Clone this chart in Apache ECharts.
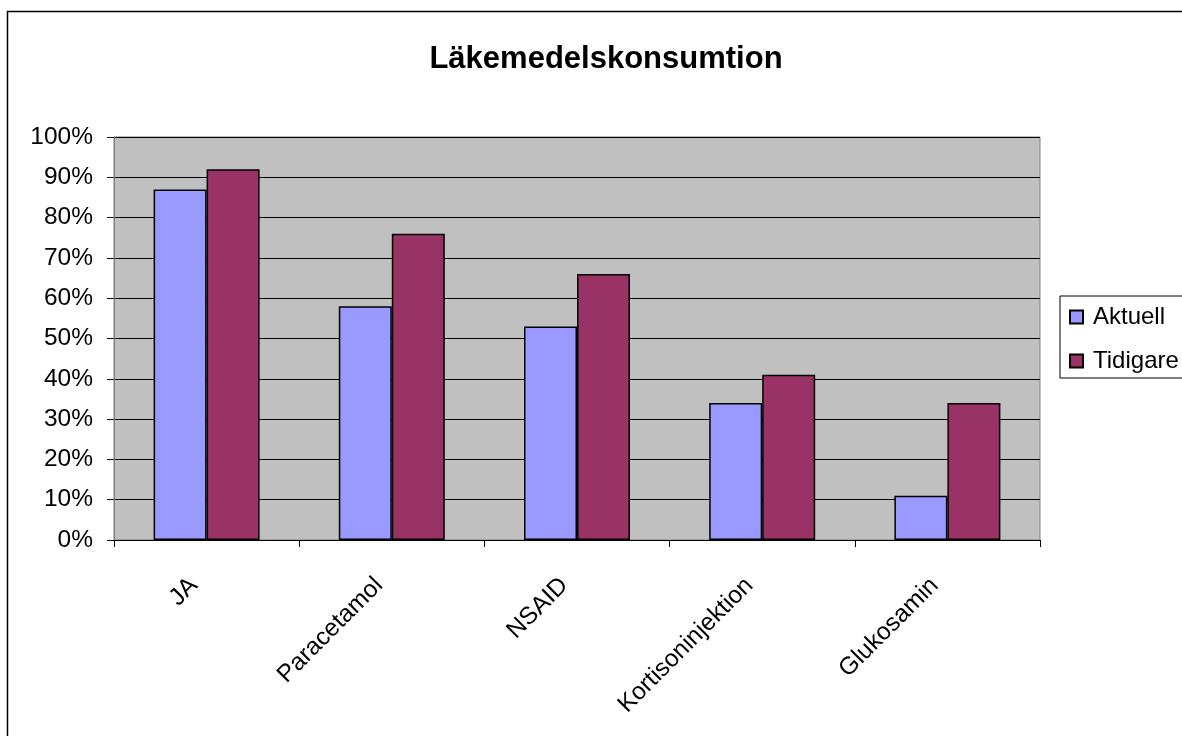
<!DOCTYPE html>
<html>
<head>
<meta charset="utf-8">
<script src="https://cdn.jsdelivr.net/npm/echarts@6/dist/echarts.min.js"></script>
<style>
  html, body { margin: 0; padding: 0; background: #ffffff; }
  #chart { width: 1182px; height: 736px; }
</style>
</head>
<body>
<div id="chart"></div>
<script>
// Läkemedelskonsumtion: andel (%) per läkemedelstyp
const categories = ['JA', 'Paracetamol', 'NSAID', 'Kortisoninjektion', 'Glukosamin'];
const aktuell = [87, 58, 53, 34, 11];
const tidigare = [92, 76, 66, 41, 34];
const seriesNames = ['Aktuell', 'Tidigare'];

const FONT = 'Liberation Sans, Arial, sans-serif';

const chart = echarts.init(document.getElementById('chart'), null, { renderer: 'canvas' });

chart.setOption({
  backgroundColor: '#ffffff',
  animation: false,
  textStyle: { fontFamily: FONT },
  title: {
    text: 'Läkemedelskonsumtion',
    left: 601,
    textAlign: 'center',
    top: 39,
    textStyle: { fontFamily: FONT, fontSize: 31, fontWeight: 'bold', color: '#000000' }
  },
  graphic: [
    {
      type: 'rect',
      left: 5, top: 9,
      shape: { width: 1200, height: 760 },
      style: { fill: 'none', stroke: '#000000', lineWidth: 1.5 },
      silent: true,
      z: 100
    }
  ],
  legend: {
    orient: 'vertical',
    left: 1060,
    top: 296,
    padding: [9, 6, 5, 9],
    itemGap: 20,
    itemWidth: 13,
    itemHeight: 13,
    icon: 'rect',
    borderColor: '#000000',
    borderWidth: 1,
    textStyle: { fontFamily: FONT, fontSize: 24, lineHeight: 24, color: '#000000', padding: [0, 0, 0, 5] },
    data: seriesNames
  },
  grid: {
    left: 114,
    top: 137,
    right: 142,
    bottom: 196,
    show: true,
    backgroundColor: '#c0c0c0',
    borderColor: '#808080',
    borderWidth: 1
  },
  xAxis: {
    type: 'category',
    data: categories,
    axisLine: { lineStyle: { color: '#000000', width: 1 } },
    axisTick: { show: true, length: 7, lineStyle: { color: '#000000' } },
    axisLabel: {
      interval: 0,
      rotate: 45,
      margin: 29,
      padding: [0, 18, 0, 0],
      fontFamily: FONT,
      fontSize: 24.5,
      color: '#000000'
    }
  },
  yAxis: {
    type: 'value',
    min: 0,
    max: 100,
    interval: 10,
    axisLine: { show: true, lineStyle: { color: '#808080', width: 1 } },
    axisTick: { show: true, length: 7, lineStyle: { color: '#000000' } },
    axisLabel: {
      formatter: '{value}%',
      margin: 21,
      fontFamily: FONT,
      fontSize: 24.5,
      color: '#000000'
    },
    splitLine: { show: true, lineStyle: { color: '#000000', width: 1 } }
  },
  series: [
    {
      name: seriesNames[0],
      type: 'bar',
      data: aktuell,
      barWidth: 53,
      barGap: '0%',
      itemStyle: { color: '#9999ff', borderColor: '#000000', borderWidth: 1.5 }
    },
    {
      name: seriesNames[1],
      type: 'bar',
      data: tidigare,
      barWidth: 53,
      barGap: '0%',
      itemStyle: { color: '#993366', borderColor: '#000000', borderWidth: 1.5 }
    }
  ]
});
</script>
</body>
</html>
